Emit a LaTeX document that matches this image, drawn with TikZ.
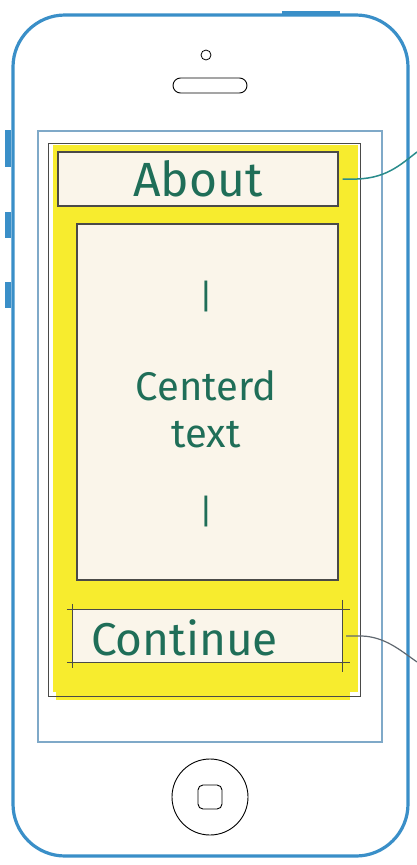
\documentclass[tikz,border=0pt]{standalone}
\usepackage{fontspec}
\setmainfont{Fira Sans}
\usetikzlibrary{calc}
\definecolor{phoneblue}{HTML}{3A8FC8}
\definecolor{screenblue}{HTML}{7FA9C8}
\definecolor{hiyellow}{HTML}{F7EC2E}
\definecolor{paper}{HTML}{FAF5EA}
\definecolor{pencil}{HTML}{4A4A48}
\definecolor{ink}{HTML}{1F6E58}
\definecolor{tealline}{HTML}{2A8C8C}
\definecolor{grayline}{HTML}{606870}
\definecolor{thin}{HTML}{8A8A8A}
\tikzset{
  box/.style={draw=pencil, line width=1.2pt, fill=paper, inner sep=0pt},
  label/.style={text=ink, inner sep=0pt},
  thinline/.style={draw=thin, line width=0.9pt},
  btn/.style={fill=phoneblue, draw=none}
}
\begin{document}
\begin{tikzpicture}[x=1pt,y=-1pt]
\useasboundingbox (0,0) rectangle (417,865);
\fill[white] (0,0) rectangle (417,865);
% phone body
\draw[phoneblue, line width=3.2pt, rounded corners=52pt] (13,15) rectangle (408,856);
\fill[phoneblue] (282,11) rectangle (340,16);
% side buttons
\fill[btn] (5,130) rectangle (11,167);
\fill[btn] (5,212) rectangle (11,238);
\fill[btn] (5,282) rectangle (11,308);
% camera and speaker
\draw[thin, line width=0.8pt] (206,55) circle (5);
\draw[thin, line width=0.9pt, rounded corners=7.5pt] (173,78) rectangle (247,93);
% screen
\draw[screenblue, line width=1.2pt] (38,131) rectangle (382,742);
% yellow highlight
\fill[hiyellow] (53,145) rectangle (358,692);
\fill[hiyellow] (56,690) rectangle (350,700);
% inner pencil frame
\draw[pencil, line width=1pt] (48,143) -- (360,143) -- (360,696) -- (48,696) -- cycle;
% About box
\node[box, minimum width=280pt, minimum height=54pt] (about) at (198,179) {};
\node[label, font=\fontsize{48}{48}\selectfont] (abouttxt) at (about.center) {About};
% centered text box
\node[box, minimum width=261pt, minimum height=356pt] (center) at (207.5,402) {};
\node[label, font=\fontsize{34}{34}\selectfont] (bar1) at (206,297) {|};
\node[label, font=\fontsize{40}{40}\selectfont] (ctext1) at (206,386) {Centerd};
\node[label, font=\fontsize{40}{40}\selectfont] (ctext2) at (206,435) {text};
\node[label, font=\fontsize{34}{34}\selectfont] (bar2) at (206,512) {|};
% Continue box
\node[fill=paper, draw=none, minimum width=269pt, minimum height=52pt, inner sep=0pt] (cont) at (207.5,636) {};
\draw[pencil, line width=0.9pt] ($(cont.north west)+(-6,0)$) -- ($(cont.north east)+(8,0)$);
\draw[pencil, line width=0.9pt] ($(cont.south west)+(-6,0)$) -- ($(cont.south east)+(8,0)$);
\draw[pencil, line width=1.1pt] ($(cont.north west)+(0,-6)$) -- ($(cont.south west)+(0,6)$);
\draw[pencil, line width=1.1pt] ($(cont.north east)+(0,-10)$) -- ($(cont.south east)+(0,10)$);
\node[label, font=\fontsize{46}{46}\selectfont, anchor=west] (conttxt) at ($(cont.west)+(18,2)$) {Continue};
% connectors
\coordinate (aboutend) at (417,152);
\coordinate (contend) at (417,662);
\draw[tealline, line width=1.5pt] ($(about.east)+(4,0)$) -- ($(about.east)+(12,0)$) .. controls (385,180) and (400,165) .. (aboutend);
\draw[grayline, line width=1.2pt] ($(cont.east)+(4,0)$) -- ($(cont.east)+(20,0)$) .. controls (385,637) and (400,650) .. (contend);
% home button
\draw[thin, line width=0.9pt] (210,797) circle (38);
\draw[thin, line width=0.9pt, rounded corners=5pt] (198,785) rectangle (222,809);
\end{tikzpicture}
\end{document}
